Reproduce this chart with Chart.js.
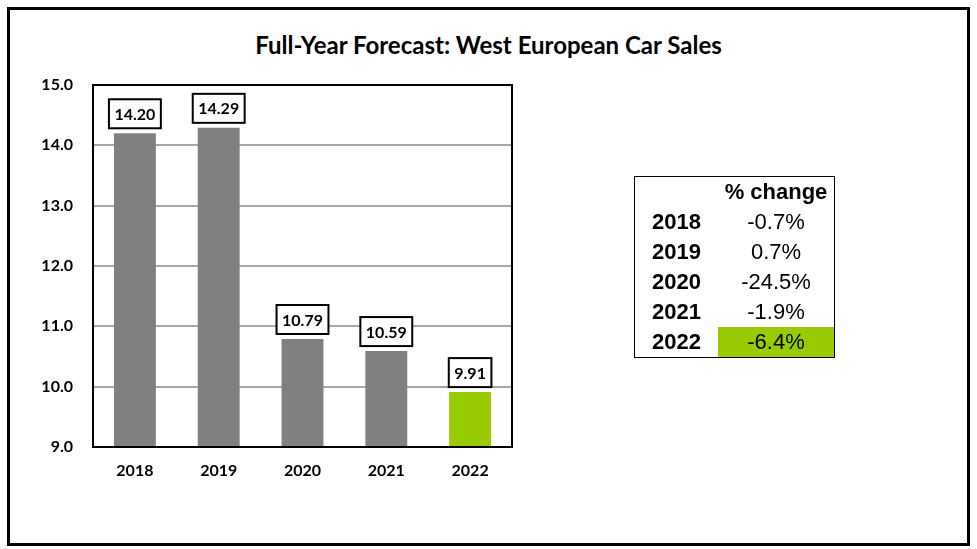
<!DOCTYPE html>
<html>
<head>
<meta charset="utf-8">
<script src="https://cdn.jsdelivr.net/npm/chart.js@4/dist/chart.umd.min.js"></script>
<style>
  html, body { margin:0; padding:0; background:#fff; }
  #wrap { position:relative; width:977px; height:549px; overflow:hidden; }
  #frame { position:absolute; left:7px; top:7px; width:957px; height:533px; border:3px solid #000; box-sizing:content-box; }
  #title { position:absolute; left:0; width:977px; top:30px; text-align:center; font-family:Lato, "Open Sans", sans-serif; font-weight:bold; font-size:24px; line-height:29px; color:#000; }
  canvas { position:absolute; left:0; top:0; }
  #tbl { position:absolute; left:634px; top:176px; border-collapse:collapse; border:1px solid #000; font-family:"Liberation Sans", Arial, sans-serif; font-size:22px; color:#000; }
  #tbl td { padding:0; height:30px; line-height:30px; text-align:center; }
  #tbl td.yr { width:83px; font-weight:bold; }
  #tbl td.val { width:116px; }
  #tbl td.hdr { font-weight:bold; }
</style>
</head>
<body>
<div id="wrap">
  <div id="frame"></div>
  <div id="title">Full-Year Forecast: West European Car Sales</div>
  <canvas id="c" width="977" height="549"></canvas>
  <table id="tbl"></table>
</div>
<script>
const categories = ['2018', '2019', '2020', '2021', '2022'];
const sales = [14.20, 14.29, 10.79, 10.59, 9.91];
const pctChange = ['-0.7%', '0.7%', '-24.5%', '-1.9%', '-6.4%'];
const yTicks = [9, 10, 11, 12, 13, 14, 15];
const tableHeader = '% change';

const GREY = '#808080';
const GREEN = '#99CC00';
const FONT = 'Lato, "Open Sans", sans-serif';

// Table
const tbl = document.getElementById('tbl');
let html = '<tr><td class="yr"></td><td class="val hdr">' + tableHeader + '</td></tr>';
categories.forEach((c, i) => {
  const last = i === categories.length - 1;
  html += '<tr><td class="yr">' + c + '</td><td class="val"' + (last ? ' style="background:' + GREEN + '"' : '') + '>' + pctChange[i] + '</td></tr>';
});
tbl.innerHTML = html;

const frameBox = {
  id: 'frameBox',
  afterDatasetsDraw(chart) {
    const a = chart.chartArea, ctx = chart.ctx;
    ctx.save();
    ctx.strokeStyle = '#000';
    ctx.lineWidth = 2;
    ctx.strokeRect(a.left, a.top, a.right - a.left, a.bottom - a.top);
    ctx.restore();
  }
};

const boxLabels = {
  id: 'boxLabels',
  afterDatasetsDraw(chart) {
    const ctx = chart.ctx;
    const meta = chart.getDatasetMeta(0);
    ctx.save();
    ctx.font = 'bold 16px ' + FONT;
    ctx.textAlign = 'center';
    ctx.textBaseline = 'middle';
    meta.data.forEach((bar, i) => {
      const txt = sales[i].toFixed(2);
      const w = ctx.measureText(txt).width + 11;
      const h = 29;
      const bottom = bar.y - 5;
      const x0 = bar.x - w / 2, y0 = bottom - h;
      ctx.fillStyle = '#fff';
      ctx.fillRect(x0, y0, w, h);
      ctx.strokeStyle = '#000';
      ctx.lineWidth = 2;
      ctx.strokeRect(x0, y0, w, h);
      ctx.fillStyle = '#000';
      ctx.fillText(txt, bar.x, y0 + h / 2 + 1);
    });
    ctx.restore();
  }
};

new Chart(document.getElementById('c'), {
  type: 'bar',
  data: {
    labels: categories,
    datasets: [{
      data: sales,
      backgroundColor: categories.map((c, i) => i === categories.length - 1 ? GREEN : GREY),
      borderWidth: 0,
      barPercentage: 0.5,
      categoryPercentage: 1.0
    }]
  },
  options: {
    responsive: false,
    animation: false,
    devicePixelRatio: 1,
    layout: { padding: { left: 0, top: 85, right: 465, bottom: 0 } },
    plugins: { legend: { display: false }, tooltip: { enabled: false }, title: { display: false } },
    scales: {
      x: {
        grid: { display: false, drawTicks: false },
        border: { display: true, color: '#000', width: 2 },
        ticks: { color: '#000', padding: 14, font: { family: FONT, weight: 'bold', size: 16 } },
        afterFit(s) { s.height = 102; }
      },
      y: {
        min: yTicks[0],
        max: yTicks[yTicks.length - 1],
        afterBuildTicks(s) { s.ticks = yTicks.map(v => ({ value: v })); },
        grid: { color: '#A6A6A6', lineWidth: 2, drawTicks: false },
        border: { display: true, color: '#000', width: 2 },
        ticks: { color: '#000', padding: 20, callback: v => Number(v).toFixed(1), font: { family: FONT, weight: 'bold', size: 16 } },
        afterFit(s) { s.width = 93; }
      }
    }
  },
  plugins: [frameBox, boxLabels]
});
</script>
</body>
</html>
